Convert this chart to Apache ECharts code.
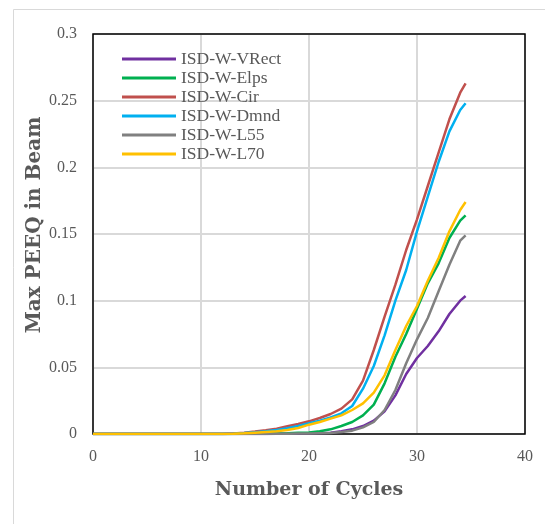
<!DOCTYPE html>
<html>
<head>
<meta charset="utf-8">
<script src="https://cdn.jsdelivr.net/npm/echarts@6/dist/echarts.min.js"></script>
<style>
html,body{margin:0;padding:0;background:#fff;}
#main{width:545px;height:524px;}
</style>
</head>
<body>
<div id="main"></div>
<script>
var seriesNames = ['ISD-W-VRect', 'ISD-W-Elps', 'ISD-W-Cir', 'ISD-W-Dmnd', 'ISD-W-L55', 'ISD-W-L70'];
var seriesColors = ['#7030a0', '#00b050', '#c0504d', '#00b0f0', '#808080', '#ffc000'];

var cycles = [0, 12, 13, 14, 15, 16, 17, 18, 19, 20, 21, 22, 23, 24, 25, 26, 27, 28, 29, 30, 31, 32, 33, 34, 34.5];

var vrect = [0, 0, 0, 0, 0, 0, 0.0001, 0.0002, 0.0003, 0.0005, 0.0007, 0.001, 0.002, 0.0035, 0.006, 0.010, 0.017, 0.029, 0.045, 0.057, 0.066, 0.077, 0.090, 0.100, 0.1035];
var elps = [0, 0, 0, 0.0001, 0.0002, 0.0003, 0.0004, 0.0006, 0.0009, 0.0012, 0.002, 0.0035, 0.006, 0.009, 0.014, 0.022, 0.038, 0.058, 0.075, 0.094, 0.113, 0.128, 0.147, 0.160, 0.164];
var cir = [0, 0, 0.0003, 0.001, 0.0018, 0.0028, 0.004, 0.0058, 0.0075, 0.0095, 0.012, 0.015, 0.019, 0.026, 0.040, 0.063, 0.088, 0.112, 0.138, 0.161, 0.186, 0.211, 0.236, 0.256, 0.263];
var dmnd = [0, 0, 0.0002, 0.0007, 0.0013, 0.002, 0.003, 0.0043, 0.006, 0.008, 0.010, 0.0125, 0.0155, 0.021, 0.034, 0.051, 0.074, 0.100, 0.123, 0.152, 0.178, 0.204, 0.227, 0.243, 0.248];
var l55 = [0, 0, 0, 0, 0, 0, 0.0001, 0.0002, 0.0003, 0.0004, 0.0006, 0.0008, 0.0015, 0.0025, 0.005, 0.009, 0.018, 0.033, 0.053, 0.071, 0.087, 0.107, 0.127, 0.145, 0.149];
var l70 = [0, 0, 0.0002, 0.0005, 0.001, 0.0015, 0.002, 0.003, 0.0045, 0.007, 0.009, 0.0115, 0.014, 0.018, 0.023, 0.031, 0.044, 0.063, 0.081, 0.096, 0.115, 0.132, 0.152, 0.168, 0.174];

var allValues = [vrect, elps, cir, dmnd, l55, l70];

var textColor = '#595959';
var series = [];
for (var i = 0; i < seriesNames.length; i++) {
    var pts = [];
    for (var j = 0; j < cycles.length; j++) {
        pts.push([cycles[j], allValues[i][j]]);
    }
    series.push({
        name: seriesNames[i],
        type: 'line',
        data: pts,
        showSymbol: false,
        symbol: 'none',
        lineStyle: {color: seriesColors[i], width: 2.5},
        itemStyle: {color: seriesColors[i]},
        z: 2 + i
    });
}

var myChart = echarts.init(document.getElementById('main'));
var option = {
    animation: false,
    backgroundColor: '#fff',
    graphic: [{
        type: 'rect',
        shape: {x: 13.5, y: 9.5, width: 560, height: 560},
        style: {fill: 'none', stroke: '#d9d9d9', lineWidth: 1},
        z: -1
    }, {
        // black frame of the plot area, drawn over the grid lines
        type: 'rect',
        shape: {x: 93, y: 34, width: 432, height: 400},
        style: {fill: 'none', stroke: '#000', lineWidth: 1.5},
        z: 1
    }],
    grid: {
        left: 93, right: 20, top: 34, bottom: 90
    },
    legend: {
        data: seriesNames,
        orient: 'vertical',
        left: 117,
        top: 45,
        itemWidth: 54,
        itemHeight: 3,
        itemGap: 1,
        icon: 'rect',
        textStyle: {fontFamily: 'Liberation Serif', fontSize: 17.5, color: textColor, lineHeight: 18}
    },
    xAxis: {
        type: 'value',
        min: 0, max: 40, interval: 10,
        name: 'Number of Cycles',
        nameLocation: 'middle',
        nameGap: 47,
        nameMoveOverlap: false,
        nameTextStyle: {fontFamily: 'DejaVu Serif', fontWeight: 'bold', fontSize: 19, color: textColor},
        axisLine: {show: false},
        axisTick: {show: false},
        axisLabel: {fontFamily: 'Liberation Serif', fontSize: 16, color: textColor, margin: 15},
        splitLine: {lineStyle: {color: '#d9d9d9', width: 2}}
    },
    yAxis: {
        type: 'value',
        min: 0, max: 0.3, interval: 0.05,
        name: 'Max PEEQ in Beam',
        nameLocation: 'middle',
        nameGap: 48,
        nameMoveOverlap: false,
        nameTextStyle: {fontFamily: 'DejaVu Serif', fontWeight: 'bold', fontSize: 20, color: textColor, padding: [0, 0, 0, 18]},
        axisLine: {show: false},
        axisTick: {show: false},
        axisLabel: {fontFamily: 'Liberation Serif', fontSize: 16, color: textColor, margin: 16},
        splitLine: {lineStyle: {color: '#d9d9d9', width: 2}}
    },
    series: series
};
myChart.setOption(option);
</script>
</body>
</html>
